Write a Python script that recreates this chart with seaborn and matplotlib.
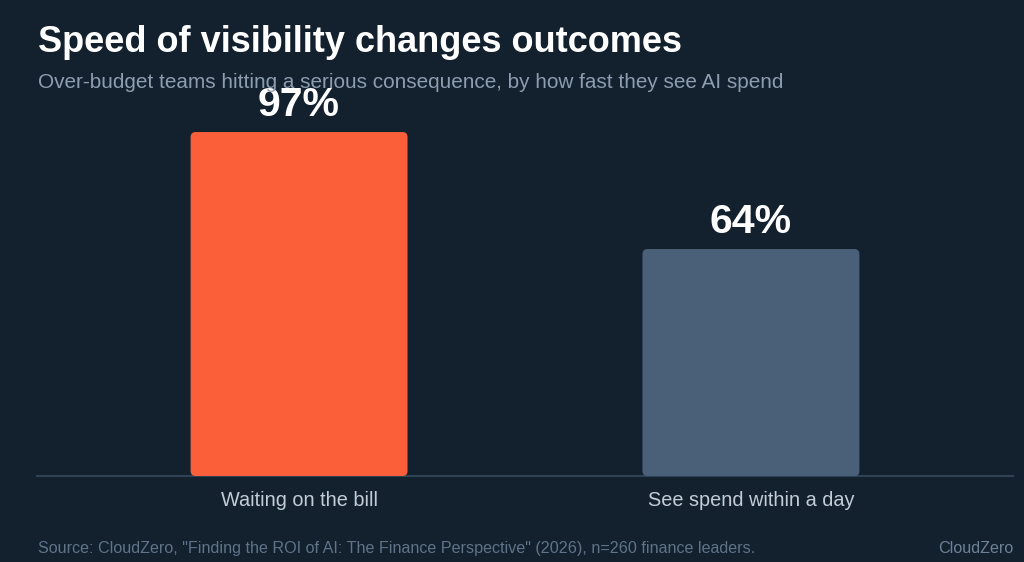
import matplotlib
matplotlib.use("Agg")
import matplotlib.pyplot as plt
from matplotlib.patches import FancyBboxPatch
import pandas as pd
import seaborn as sns

# Chart data
categories = ["Waiting on the bill", "See spend within a day"]
shares = [97, 64]
bar_colors = ["#fb5f3a", "#4a6079"]

title = "Speed of visibility changes outcomes"
subtitle = "Over-budget teams hitting a serious consequence, by how fast they see AI spend"
source = 'Source: CloudZero, "Finding the ROI of AI: The Finance Perspective" (2026), n=260 finance leaders.'
brand = "CloudZero"

BG = "#13212f"

sns.set_theme(style="white")
plt.rcParams["font.family"] = ["Liberation Sans", "DejaVu Sans"]

df = pd.DataFrame({"group": categories, "share": shares})

fig = plt.figure(figsize=(10.24, 5.62), dpi=100, facecolor=BG)
ax = fig.add_axes([37 / 1024, 86 / 562, 976 / 1024, 354.6 / 562])
ax.set_facecolor(BG)

sns.barplot(data=df, x="group", y="share", hue="group", palette=bar_colors,
            width=0.48, legend=False, ax=ax, saturation=1)

ax.set_xlim(-0.58, 1.58)
ax.set_ylim(0, 100)

# swap the plain rectangles for rounded ones
px_x = 976 / 2.16
px_y = 354.6 / 100
r = 5 / px_x
for p in list(ax.patches):
    x, y, w, h = p.get_x(), p.get_y(), p.get_width(), p.get_height()
    rounded = FancyBboxPatch((x, y), w, h,
                             boxstyle=f"round,pad=0,rounding_size={r}",
                             mutation_aspect=px_x / px_y,
                             facecolor=p.get_facecolor(), edgecolor="none", zorder=2)
    p.remove()
    ax.add_patch(rounded)

for i, v in enumerate(shares):
    ax.annotate(f"{v}%", (i, v), xytext=(0, 6), textcoords="offset points",
                ha="center", va="bottom", fontsize=29.5, fontweight="bold",
                color="white", annotation_clip=False, zorder=5)

for s in ["top", "right", "left"]:
    ax.spines[s].set_visible(False)
ax.spines["bottom"].set_color("#2f4155")
ax.spines["bottom"].set_linewidth(1.5)
ax.spines["bottom"].set_zorder(1)
ax.set_yticks([])
ax.set_xlabel("")
ax.set_ylabel("")
ax.tick_params(axis="x", length=0, pad=11, labelsize=14.3, labelcolor="#c3ccd7")

fig.text(38 / 1024, 1 - 52 / 562, title, fontsize=26, fontweight="bold",
         color="white", ha="left", va="baseline")
fig.text(38 / 1024, 1 - 88 / 562, subtitle, fontsize=14.95, color="#8d9db0",
         ha="left", va="baseline")
fig.text(38 / 1024, 1 - 553 / 562, source, fontsize=11.6, color="#5f7389",
         ha="left", va="baseline")
fig.text(1013 / 1024, 1 - 553 / 562, brand, fontsize=11.6, color="#6d8197",
         ha="right", va="baseline")

fig.savefig("out.png", dpi=100, facecolor=BG)
